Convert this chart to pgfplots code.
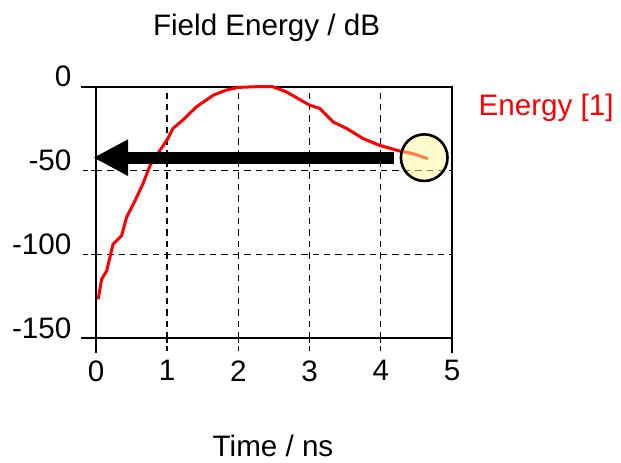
\documentclass[border=0pt]{standalone}
\usepackage{fontspec}
\setmainfont{Liberation Sans}
\usepackage{pgfplots}
\pgfplotsset{compat=1.18}
\usetikzlibrary{arrows.meta}
\definecolor{circfill}{RGB}{255,248,150}
\begin{document}
\begin{tikzpicture}[font=\fontsize{14.8}{17}\selectfont]
\useasboundingbox (-48pt,-61.85pt) rectangle (262.5pt,169.15pt);
\begin{axis}[
 at={(0,0)}, anchor=south west,
 scale only axis, width=178pt, height=125.8pt,
 xmin=0, xmax=5, ymin=-150, ymax=0,
 xtick={0,5}, ytick={-150,0},
 extra x ticks={1,2,3,4}, extra y ticks={-100,-50},
 extra tick style={grid=major, major tick style={draw=none}},
 grid=major,
 grid style={black, line width=0.7pt, dash pattern=on 3.2pt off 2.5pt},
 axis line style={black, line width=1pt},
 xtick pos=bottom, ytick pos=left, tick align=outside, major tick length=7.5pt,
 major tick style={black, line width=1pt, solid},
 /pgf/number format/assume math mode=true,
 ticklabel style={font=\fontsize{14.8}{17}\selectfont},
 xticklabel style={anchor=north, inner sep=0pt, yshift=-3.35pt},
 yticklabel style={anchor=base east, inner sep=0pt, xshift=-4.65pt},
 clip=false,
]
\addplot[red, line width=1.5pt] coordinates {
 (0.03,-126.7) (0.08,-114.7) (0.15,-109.8) (0.24,-93.8) (0.36,-88.8)
 (0.43,-77.8) (0.55,-67.8) (0.66,-57.8) (0.76,-46.9) (0.90,-37.9)
 (1.01,-30.9) (1.08,-24.9) (1.22,-19.9) (1.41,-12.0) (1.65,-5.0)
 (1.83,-2.0) (2.00,-0.4) (2.25,0) (2.48,0) (2.67,-3.0)
 (3.00,-11.0) (3.14,-12.9) (3.33,-21.0) (3.52,-24.9) (3.75,-30.9)
 (3.98,-34.9) (4.26,-38.3) (4.45,-39.9) (4.66,-42.9)
};
\draw[black, line width=0.7pt, dash pattern=on 2.5pt off 1.5pt] (axis cs:1,-150) -- ++(0pt,-7.5pt);
\draw[black, line width=0.7pt, dash pattern=on 2.5pt off 1.5pt] (axis cs:2,-150) -- ++(0pt,-7.5pt);
\draw[black, line width=0.7pt, dash pattern=on 2.5pt off 1.5pt] (axis cs:3,-150) -- ++(0pt,-7.5pt);
\draw[black, line width=0.7pt, dash pattern=on 2.5pt off 1.5pt] (axis cs:4,-150) -- ++(0pt,-7.5pt);
\draw[black, line width=0.7pt, dash pattern=on 2.5pt off 1.5pt] (axis cs:0,-50) -- ++(-7.5pt,0pt);
\draw[black, line width=0.7pt, dash pattern=on 2.5pt off 1.5pt] (axis cs:0,-100) -- ++(-7.5pt,0pt);
\draw[black, line width=5.85pt, -{Triangle[length=17.5pt,width=17pt]}] (axis cs:4.19,-42.3) -- (axis cs:-0.04,-42.3);
\draw[black, line width=1.3pt, fill=circfill, fill opacity=0.5] (axis cs:4.61,-42.3) circle[radius=11.65pt];
\end{axis}
\node[anchor=base] at (85.3pt,151.65pt) {Field Energy / dB};
\node[anchor=base] at (88.5pt,-58.9pt) {Time / ns};
\node[anchor=base west, red, inner sep=0pt] at (191.15pt,111.65pt) {Energy [1]};
\end{tikzpicture}
\end{document}
